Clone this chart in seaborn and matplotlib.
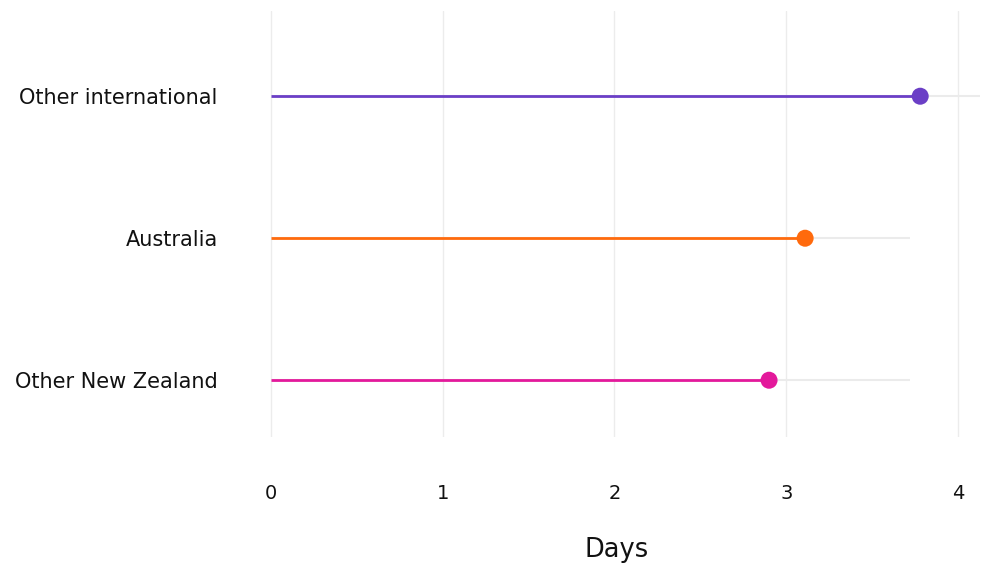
import matplotlib
matplotlib.use("Agg")
import matplotlib.pyplot as plt
import seaborn as sns
import pandas as pd


# Datos
categorias = ["Other international", "Australia", "Other New Zealand"]
dias = [3.78, 3.11, 2.90]
referencia = [4.15, 3.72, 3.72]
colores = ["#6b3fc6", "#ff6a0d", "#e3199b"]


def graficar(df):
    sns.set_style("white")
    plt.rcParams["font.family"] = ["DejaVu Sans"]
    fig = plt.figure(figsize=(9.81, 5.65), dpi=100)
    ax = fig.add_axes([0.2587, 0.2265, 0.7406, 0.754])

    pos = list(range(len(df)))
    ax.hlines(pos, 0, df["referencia"], color="#ebebeb", lw=1.5, zorder=1)
    ax.hlines(pos, 0, df["dias"], color=df["color"], lw=2, zorder=2)
    sns.scatterplot(data=df, x="dias", y="pos", hue="categoria",
                    palette=dict(zip(df["categoria"], df["color"])),
                    s=150, edgecolor="none", legend=False, zorder=3, ax=ax)

    ax.set_xlim(-0.1, 4.13)
    ax.set_ylim(2.4, -0.6)
    ax.set_xticks([0, 1, 2, 3, 4])
    ax.set_yticks(pos)
    ax.set_yticklabels(df["categoria"])
    ax.xaxis.grid(True, color="#ececec", lw=1)
    ax.yaxis.grid(False)
    for s in ax.spines.values():
        s.set_visible(False)
    ax.tick_params(axis="x", length=0, pad=34, labelsize=14, labelcolor="#111111")
    ax.tick_params(axis="y", length=0, pad=26, labelsize=15, labelcolor="#111111")
    ax.set_xlabel("Days", fontsize=18.5, labelpad=24, color="#111111")
    ax.set_ylabel("")
    fig.savefig("out.png", dpi=100)


def main():
    df = pd.DataFrame({
        "categoria": categorias,
        "dias": dias,
        "referencia": referencia,
        "color": colores,
        "pos": range(len(categorias)),
    })
    graficar(df)


if __name__ == '__main__':
    main()
